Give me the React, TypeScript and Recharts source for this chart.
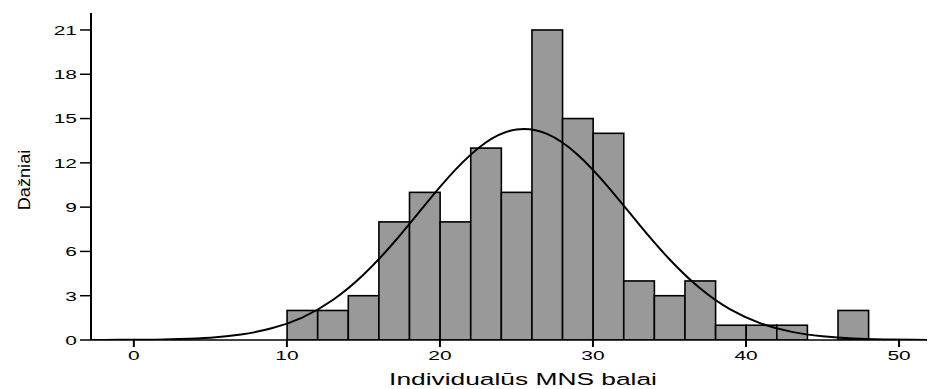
import {
  Bar,
  ComposedChart,
  Label,
  Line,
  XAxis,
  YAxis,
} from "recharts";

// bin centers (bins are 2 wide, 10..48)
const binCenters = [11, 13, 15, 17, 19, 21, 23, 25, 27, 29, 31, 33, 35, 37, 39, 41, 43, 45, 47];
const binCounts = [2, 2, 3, 8, 10, 8, 13, 10, 21, 15, 14, 4, 3, 4, 1, 1, 1, 0, 2];

// fitted normal curve
const curveX = [-3, -1, 1, 3, 5, 7, 9, 11, 13, 15, 17, 19, 21, 23, 25, 27, 29, 31, 33, 35, 37, 39, 41, 43, 45, 47, 49, 51, 53];
const curveY = [0.0, 0.01, 0.02, 0.07, 0.16, 0.37, 0.79, 1.52, 2.71, 4.42, 6.62, 9.12, 11.52, 13.38, 14.26, 13.96, 12.55, 10.36, 7.85, 5.47, 3.5, 2.05, 1.11, 0.55, 0.25, 0.1, 0.04, 0.01, 0.0];

const xTicks = [0, 10, 20, 30, 40, 50];
const yTicks = [0, 3, 6, 9, 12, 15, 18, 21];

const xDomain = [-2.8, 52.35];
const yDomain = [0, 22.15];

const FONT = "'Liberation Sans', Arial, sans-serif";
const STRETCH = 1.55;

const chartW = 927;
const chartH = 381;
const axisW = 83;
const axisH = 49;
const topGap = 5;
const plotW = chartW - axisW;

const barData = binCenters.map((x, i) => ({ x, count: binCounts[i] }));
const curveData = curveX.map((x, i) => ({ x, fit: curveY[i] }));

// one bin = 2 units wide
const binPx = (2 * plotW) / (xDomain[1] - xDomain[0]);

// histogram bars touch each other, so widen each one to the full bin
function BinRect(props: any) {
  const { x, y, width, height } = props;
  if (!height) return null;
  const cx = x + width / 2;
  return (
    <rect
      x={cx - binPx / 2}
      y={y}
      width={binPx}
      height={height}
      fill="#999999"
      stroke="#000"
      strokeWidth={1.6}
    />
  );
}

function YTick({ x, y, payload }: any) {
  return (
    <text
      x={0}
      y={0}
      dy="0.36em"
      textAnchor="end"
      fontSize={13.5}
      fontFamily={FONT}
      fill="#000"
      transform={`translate(${x},${y}) scale(${STRETCH},1)`}
    >
      {payload.value}
    </text>
  );
}

function XTick({ x, y, payload }: any) {
  return (
    <text
      x={0}
      y={0}
      dy="0.75em"
      textAnchor="middle"
      fontSize={13.5}
      fontFamily={FONT}
      fill="#000"
      transform={`translate(${x},${y}) scale(${STRETCH},1)`}
    >
      {payload.value}
    </text>
  );
}

function YTitle() {
  return (
    <text
      x={0}
      y={0}
      textAnchor="middle"
      fontSize={16.5}
      fontFamily={FONT}
      fill="#000"
      transform={`translate(22,172) rotate(-90) scale(1.1,1)`}
    >
      Dažniai
    </text>
  );
}

function XTitle() {
  return (
    <text
      x={0}
      y={0}
      textAnchor="middle"
      fontSize={17}
      fontFamily={FONT}
      fill="#000"
      transform={`translate(515,377) scale(${STRETCH},1)`}
    >
      Individualūs MNS balai
    </text>
  );
}

export default function App() {
  return (
    <ComposedChart
      width={chartW}
      height={chartH}
      data={barData}
      barGap={0}
      barCategoryGap={0}
      margin={{ top: topGap, right: 0, bottom: 0, left: 0 }}
    >
      <XAxis
        xAxisId="top"
        orientation="top"
        dataKey="x"
        type="number"
        domain={xDomain}
        allowDataOverflow
        height={0}
        tick={false}
        tickLine={false}
        axisLine={{ stroke: "#555", strokeWidth: 2 }}
      />
      <XAxis
        dataKey="x"
        type="number"
        domain={xDomain}
        allowDataOverflow
        ticks={xTicks}
        height={axisH}
        tickSize={7}
        tickMargin={3}
        tick={<XTick />}
        tickLine={{ stroke: "#000", strokeWidth: 2 }}
        axisLine={{ stroke: "#000", strokeWidth: 1.5 }}
      >
        <Label content={<XTitle />} />
      </XAxis>
      <YAxis
        type="number"
        domain={yDomain}
        allowDataOverflow
        ticks={yTicks}
        width={axisW}
        tickSize={11}
        tickMargin={3}
        tick={<YTick />}
        tickLine={{ stroke: "#000", strokeWidth: 1.5 }}
        axisLine={{ stroke: "#000", strokeWidth: 2 }}
      >
        <Label content={<YTitle />} />
      </YAxis>
      <Bar
        dataKey="count"
        shape={<BinRect />}
        isAnimationActive={false}
      />
      <Line
        data={curveData}
        dataKey="fit"
        type="natural"
        stroke="#000"
        strokeWidth={2}
        dot={false}
        activeDot={false}
        isAnimationActive={false}
      />
    </ComposedChart>
  );
}
